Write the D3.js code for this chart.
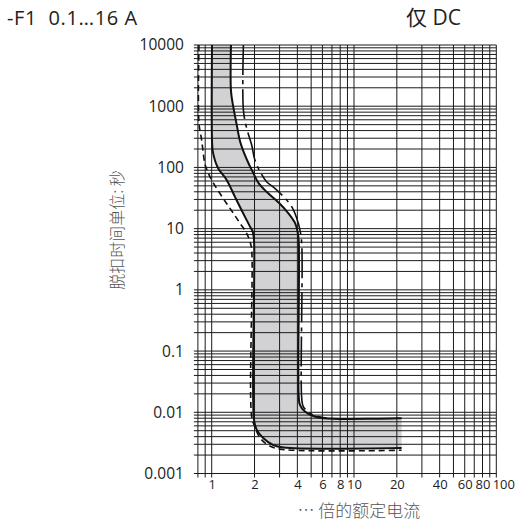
<!DOCTYPE html>
<html>
<head>
<meta charset="utf-8">
<script src="https://cdn.jsdelivr.net/npm/d3@7"></script>
<style>
  body { margin: 0; background: #fff; }
  text { font-family: "Open Sans", "Noto Sans CJK SC", sans-serif; }
</style>
</head>
<body>
<div id="app"></div>
<script>
// tick labels
const xTicks = [1, 2, 4, 6, 8, 10, 20, 40, 60, 80, 100];
const yTicks = [10000, 1000, 100, 10, 1, 0.1, 0.01, 0.001];
const yTickLabels = ['10000', '1000', '100', '10', '1', '0.1', '0.01', '0.001'];

// curves: [multiple of rated current, trip time s]
const lowerSolid = [[1.005, 10000], [1.005, 281], [1.02, 178], [1.107, 98], [1.274, 62.5], [1.458, 33],
  [1.66, 18], [1.859, 10.8], [1.942, 8.9], [1.983, 6.5], [1.983, 0.0075], [2.07, 0.0052],
  [2.3, 0.0038], [2.71, 0.0029], [3.19, 0.00265], [21.6, 0.0026]];
const upperSolid = [[1.366, 10000], [1.366, 1800], [1.41, 1050], [1.5, 496], [1.58, 271], [1.71, 160],
  [1.84, 109], [1.96, 81], [2.13, 56], [2.43, 40], [2.94, 27], [3.45, 18], [3.85, 12.4],
  [4.02, 8.8], [4.09, 6.2], [4.09, 0.018], [4.17, 0.0132], [4.52, 0.0103], [5.18, 0.0087],
  [6.08, 0.008], [21.6, 0.008]];
const lowerDashed = [[0.814, 10000], [0.814, 534], [0.85, 280], [0.897, 114], [0.946, 81], [1.026, 56],
  [1.14, 37.9], [1.27, 26], [1.42, 17.8], [1.58, 12.3], [1.76, 8.4], [1.86, 6.1], [1.91, 4.5],
  [1.91, 0.0085], [2.01, 0.0058], [2.19, 0.0038], [2.5, 0.0029], [3.02, 0.0025], [21.6, 0.0024]];
const upperDashed = [[1.67, 10000], [1.67, 870], [1.76, 440], [1.91, 232], [2.01, 133], [2.19, 85],
  [2.43, 58.5], [2.78, 45.5], [3.19, 33.4], [3.65, 22.9], [3.96, 14.8], [4.17, 9.5], [4.29, 5.8],
  [4.29, 0.0173], [4.4, 0.0124], [4.9, 0.0097], [5.6, 0.0085], [6.45, 0.008]];

const width = 524, height = 522;

const x = d3.scaleLog().domain([0.8, 100]).range([197.9, 496.3]);
const y = d3.scaleLog().domain([0.001, 10000]).range([473.5, 45]);

const svg = d3.select('#app').append('svg')
  .attr('width', width)
  .attr('height', height);

// tolerance band
const line = d3.line()
  .x(d => x(d[0]))
  .y(d => y(d[1]))
  .curve(d3.curveCatmullRom.alpha(0.5));

const bandPath = line(lowerSolid) + line(upperSolid.slice().reverse()).replace(/^M/, 'L') + 'Z';
svg.append('path')
  .attr('d', bandPath)
  .attr('fill', '#d2d2d4');

// log grid
const gridX = [], gridY = [];
[0.1, 1, 10].forEach(dec => d3.range(1, 10).forEach(k => {
  const v = +(k * dec).toPrecision(3);
  if (v >= 0.8 && v <= 100) gridX.push(v);
}));
gridX.push(100);
[0.001, 0.01, 0.1, 1, 10, 100, 1000].forEach(dec => d3.range(1, 10).forEach(k => {
  gridY.push(+(k * dec).toPrecision(3));
}));
gridY.push(10000);

svg.append('g').selectAll('line')
  .data(gridX)
  .enter()
  .append('line')
  .attr('x1', d => x(d)).attr('x2', d => x(d))
  .attr('y1', y(10000)).attr('y2', y(0.001) + 4)
  .attr('stroke', '#1a1a1a')
  .attr('stroke-width', 1);

svg.append('g').selectAll('line')
  .data(gridY)
  .enter()
  .append('line')
  .attr('y1', d => y(d)).attr('y2', d => y(d))
  .attr('x1', x(0.8) - 4).attr('x2', x(100))
  .attr('stroke', '#1a1a1a')
  .attr('stroke-width', 1);

// curves
svg.append('path').attr('d', line(lowerSolid))
  .attr('fill', 'none').attr('stroke', '#111').attr('stroke-width', 2);
svg.append('path').attr('d', line(upperSolid))
  .attr('fill', 'none').attr('stroke', '#111').attr('stroke-width', 2);
svg.append('path').attr('d', line(lowerDashed))
  .attr('fill', 'none').attr('stroke', '#111').attr('stroke-width', 1.6)
  .attr('stroke-dasharray', '6,4');
svg.append('path').attr('d', line(upperDashed))
  .attr('fill', 'none').attr('stroke', '#111').attr('stroke-width', 1.6)
  .attr('stroke-dasharray', '30,5,4,5');

// axes (labels only)
const xAxis = svg.append('g')
  .attr('transform', `translate(0,${y(0.001) + 4})`)
  .call(d3.axisBottom(x).tickValues(xTicks).tickFormat(d => String(d)).tickSize(0).tickPadding(2));
const yAxis = svg.append('g')
  .attr('transform', `translate(${x(0.8) - 14},0)`)
  .call(d3.axisLeft(y).tickValues(yTicks).tickFormat((d, i) => yTickLabels[i]).tickSize(0).tickPadding(0));

[xAxis, yAxis].forEach(g => {
  g.select('.domain').remove();
  g.selectAll('text')
    .attr('fill', '#222')
    .style('font-family', '"Open Sans", sans-serif');
});
xAxis.selectAll('text').style('font-size', '13px');
yAxis.selectAll('text').style('font-size', '15.5px');
// last label sits just past the right edge in the original
xAxis.selectAll('text').filter(d => d === 100).attr('dx', 7);

// titles
svg.append('text')
  .attr('x', 7).attr('y', 25)
  .attr('fill', '#222')
  .style('font-size', '20px')
  .style('letter-spacing', '0.6px')
  .text('-F1\u00a0\u00a00.1…16 A');

svg.append('text')
  .attr('x', 406).attr('y', 25)
  .attr('fill', '#222')
  .style('font-size', '21px')
  .text('仅 DC');

svg.append('text')
  .attr('transform', 'translate(123,230) rotate(-90)')
  .attr('text-anchor', 'middle')
  .attr('fill', '#555')
  .style('font-size', '16px')
  .style('font-family', '"Noto Sans CJK SC", sans-serif')
  .style('font-weight', 300)
  .text('脱扣时间单位: 秒');

svg.append('text')
  .attr('x', 359).attr('y', 517)
  .attr('text-anchor', 'middle')
  .attr('fill', '#555')
  .style('font-size', '17px')
  .style('font-family', '"Noto Sans CJK SC", sans-serif')
  .style('font-weight', 300)
  .text('… 倍的额定电流');
</script>
</body>
</html>
